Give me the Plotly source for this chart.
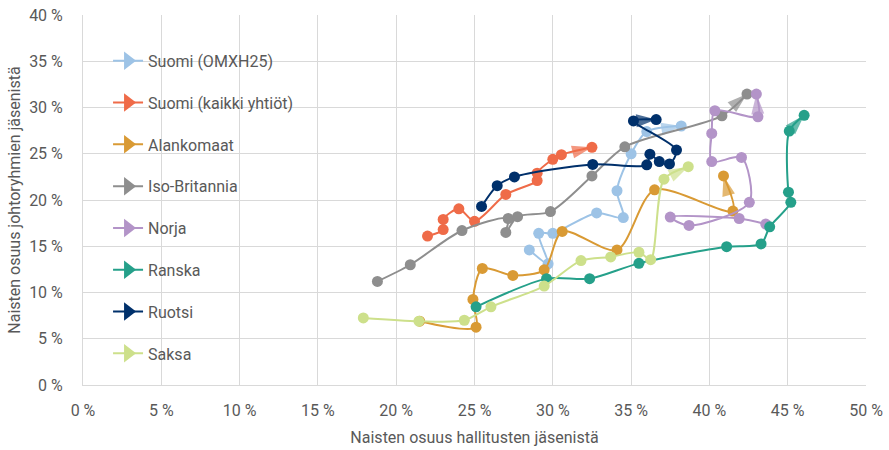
import plotly.graph_objects as go

names = ["Suomi (OMXH25)", "Suomi (kaikki yhtiöt)", "Alankomaat", "Iso-Britannia",
         "Norja", "Ranska", "Ruotsi", "Saksa"]
colors = ["#9DC3E6", "#EF6B48", "#D99A34", "#8E8E8E",
          "#B394C8", "#25A08A", "#00306B", "#CDE08B"]

omx_x = [28.5, 29.7, 29.1, 30.0, 32.8, 34.5, 34.1, 35.0, 36.0, 38.2]
omx_y = [14.6, 13.1, 16.4, 16.4, 18.6, 18.1, 21.0, 25.0, 27.4, 28.0]

fin_x = [22.0, 23.0, 23.0, 24.0, 25.0, 27.0, 29.0, 29.0, 30.0, 30.55, 32.5]
fin_y = [16.1, 16.8, 17.9, 19.05, 17.7, 20.6, 22.1, 22.9, 24.4, 24.9, 25.7]

nl_x = [21.5, 25.1, 24.9, 25.5, 27.45, 29.45, 30.6, 34.1, 36.5, 41.5, 40.9]
nl_y = [6.9, 6.25, 9.25, 12.6, 11.85, 12.45, 16.6, 14.6, 21.1, 18.8, 22.6]

uk_x = [18.8, 20.9, 24.2, 27.15, 27.0, 27.75, 29.85, 32.5, 34.6, 40.8, 42.4]
uk_y = [11.2, 13.0, 16.7, 18.0, 16.5, 18.2, 18.75, 22.6, 25.75, 29.1, 31.45]

no_x = [43.6, 41.9, 37.5, 38.7, 42.55, 42.05, 40.15, 40.15, 40.35, 43.1, 43.0]
no_y = [17.4, 18.0, 18.15, 17.25, 19.75, 24.6, 24.15, 27.2, 29.65, 29.0, 31.45]

fr_x = [25.1, 29.6, 32.35, 35.5, 41.1, 43.3, 43.85, 45.2, 45.05, 45.1, 46.05]
fr_y = [8.45, 11.5, 11.5, 13.15, 14.95, 15.25, 17.1, 19.75, 20.85, 27.45, 29.15]

se_x = [25.45, 26.45, 27.55, 32.55, 36.0, 36.2, 36.8, 37.45, 37.9, 35.15, 36.6]
se_y = [19.3, 21.55, 22.5, 23.85, 23.8, 24.95, 24.15, 23.9, 25.4, 28.55, 28.7]

de_x = [17.9, 21.45, 24.35, 26.05, 29.45, 31.8, 33.7, 35.5, 36.25, 37.1, 38.65]
de_y = [7.25, 6.9, 7.0, 8.45, 10.7, 13.45, 13.85, 14.35, 13.55, 22.25, 23.6]

series_x = [omx_x, fin_x, nl_x, uk_x, no_x, fr_x, se_x, de_x]
series_y = [omx_y, fin_y, nl_y, uk_y, no_y, fr_y, se_y, de_y]

x_ticks = [0, 5, 10, 15, 20, 25, 30, 35, 40, 45, 50]
x_labels = ["0 %", "5 %", "10 %", "15 %", "20 %", "25 %", "30 %", "35 %", "40 %", "45 %", "50 %"]
y_ticks = [0, 5, 10, 15, 20, 25, 30, 35, 40]
y_labels = ["0 %", "5 %", "10 %", "15 %", "20 %", "25 %", "30 %", "35 %", "40 %"]

FONT = "Roboto"
GREY = "#595959"

fig = go.Figure()

for name, col, xs, ys in zip(names, colors, series_x, series_y):
    # arrow head at the end of the line
    fig.add_trace(go.Scatter(
        x=xs[-2:], y=ys[-2:], mode="markers", showlegend=False, hoverinfo="skip",
        marker=dict(symbol="arrow", size=[0, 21], color=col, angleref="previous",
                    line=dict(width=0))))
    fig.add_trace(go.Scatter(
        x=xs, y=ys, mode="lines+markers", showlegend=False, name=name,
        line=dict(color=col, width=2, shape="spline", smoothing=0.8),
        marker=dict(symbol="circle", size=11, color=col, line=dict(width=0))))

# legend entries
for name, col in zip(names, colors):
    fig.add_trace(go.Scatter(
        x=[None], y=[None], mode="lines+markers", name=name, legendgroup=name,
        line=dict(color=col, width=2),
        marker=dict(symbol="triangle-right", size=16, color=col)))

fig.update_layout(
    width=889, height=450,
    margin=dict(l=83, r=23, t=15, b=65),
    paper_bgcolor="white", plot_bgcolor="white",
    font=dict(family=FONT, size=16, color=GREY),
    legend=dict(x=0.032, y=0.922, xanchor="left", yanchor="top",
                traceorder="grouped", tracegroupgap=18,
                bgcolor="rgba(0,0,0,0)", itemwidth=30,
                font=dict(family=FONT, size=16, color=GREY)),
    xaxis=dict(range=[0, 50], tickmode="array", tickvals=x_ticks, ticktext=x_labels,
               automargin=False, ticklabeloverflow="allow",
               showgrid=True, gridcolor="#D9D9D9", gridwidth=1,
               zeroline=False, showline=True, linecolor="#D9D9D9", linewidth=1,
               ticks="outside", ticklen=11, tickcolor="rgba(0,0,0,0)",
               title=dict(text="Naisten osuus hallitusten jäsenistä", standoff=12,
                          font=dict(family=FONT, size=16, color=GREY))),
    yaxis=dict(range=[0, 40], tickmode="array", tickvals=y_ticks, ticktext=y_labels,
               automargin=False, ticklabeloverflow="allow",
               showgrid=True, gridcolor="#D9D9D9", gridwidth=1,
               zeroline=False, showline=True, linecolor="#D9D9D9", linewidth=1,
               ticks="outside", ticklen=16, tickcolor="rgba(0,0,0,0)",
               title=dict(text="Naisten osuus johtoryhmien jäsenistä", standoff=4,
                          font=dict(family=FONT, size=16, color=GREY))),
)

# remove the default 8 px page margin so the figure fills the window exactly
fig.write_html("out.html", config={"displayModeBar": False},
               post_script="document.body.style.margin='0';")
